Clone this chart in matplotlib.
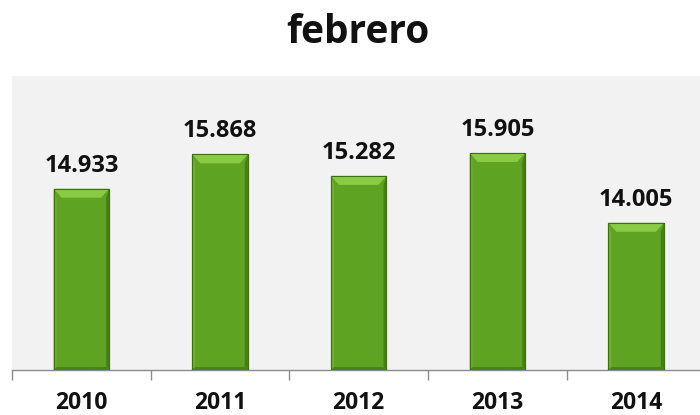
import matplotlib
matplotlib.use("Agg")
import matplotlib.pyplot as plt
from matplotlib.patches import Polygon
from matplotlib.transforms import blended_transform_factory

# data
years = ["2010", "2011", "2012", "2013", "2014"]
values = [14.933, 15.868, 15.282, 15.905, 14.005]
labels = ["14.933", "15.868", "15.282", "15.905", "14.005"]

plt.rcParams['font.family'] = ['Open Sans', 'DejaVu Sans']

fig = plt.figure(figsize=(7, 4.15), dpi=100)
ax = fig.add_axes([12/700, 45/415, 693.5/700, 294/415])
ax.set_facecolor('#f2f2f2')

ymin, ymax = 10, 18
ax.set_xlim(-0.5, 4.5)
ax.set_ylim(ymin, ymax)

w = 0.4
xs = list(range(len(years)))
bars = ax.bar(xs, [v - ymin for v in values], bottom=ymin, width=w,
              color='#5ea321', edgecolor='#3d7012', linewidth=0.8, zorder=3)

# bevel pieces, sized in pixels
pxx = 1 / 138.7
pxy = (ymax - ymin) / 294
for b in bars:
    x0 = b.get_x()
    x1 = x0 + b.get_width()
    y0 = ymin
    y1 = b.get_y() + b.get_height()
    sx, sy = 8 * pxx, 9 * pxy
    ex, ey = 3 * pxx, 3 * pxy
    top = Polygon([(x0, y1), (x1, y1), (x1 - sx, y1 - sy), (x0 + sx, y1 - sy)],
                  closed=True, facecolor='#8acb45', edgecolor='none', zorder=4)
    left = Polygon([(x0, y1), (x0 + ex, y1 - sy), (x0 + ex, y0 + ey), (x0, y0)],
                   closed=True, facecolor='#6cb12c', edgecolor='none', zorder=4)
    right = Polygon([(x1, y1), (x1 - ex, y1 - sy), (x1 - ex, y0 + ey), (x1, y0)],
                    closed=True, facecolor='#467f15', edgecolor='none', zorder=4)
    bottom = Polygon([(x0, y0), (x1, y0), (x1 - ex, y0 + ey), (x0 + ex, y0 + ey)],
                     closed=True, facecolor='#4a8418', edgecolor='none', zorder=4)
    for p in (top, left, right, bottom):
        ax.add_patch(p)
    # outline again on top
    ax.add_patch(plt.Rectangle((x0, y0), x1 - x0, y1 - y0, fill=False,
                               edgecolor='#3d7012', linewidth=0.8, zorder=5))

for x, v, t in zip(xs, values, labels):
    ax.annotate(t, (x, v), xytext=(0, 12.2), textcoords='offset points',
                ha='center', va='baseline', fontsize=17, fontweight='bold',
                color='#111111')

for s in ['top', 'right', 'left']:
    ax.spines[s].set_visible(False)
ax.spines['bottom'].set_color('#8c8c8c')
ax.spines['bottom'].set_linewidth(1)

ax.set_yticks([])
ax.set_xticks([i - 0.5 for i in range(len(years) + 1)])
ax.set_xticklabels([])
ax.tick_params(axis='x', length=7, color='#8c8c8c', width=1)

# year labels under each category
trans = blended_transform_factory(ax.transData, ax.transAxes)
for x, yr in zip(xs, years):
    ax.text(x, -39 / 294, yr, transform=trans, ha='center', va='baseline',
            fontsize=16.5, fontweight='bold', color='#111111', clip_on=False)

fig.text(358/700, 1 - 43/415, "febrero", ha='center', va='baseline',
         fontsize=28, fontweight='bold', color='#111111')

fig.savefig("out.png", dpi=100)
